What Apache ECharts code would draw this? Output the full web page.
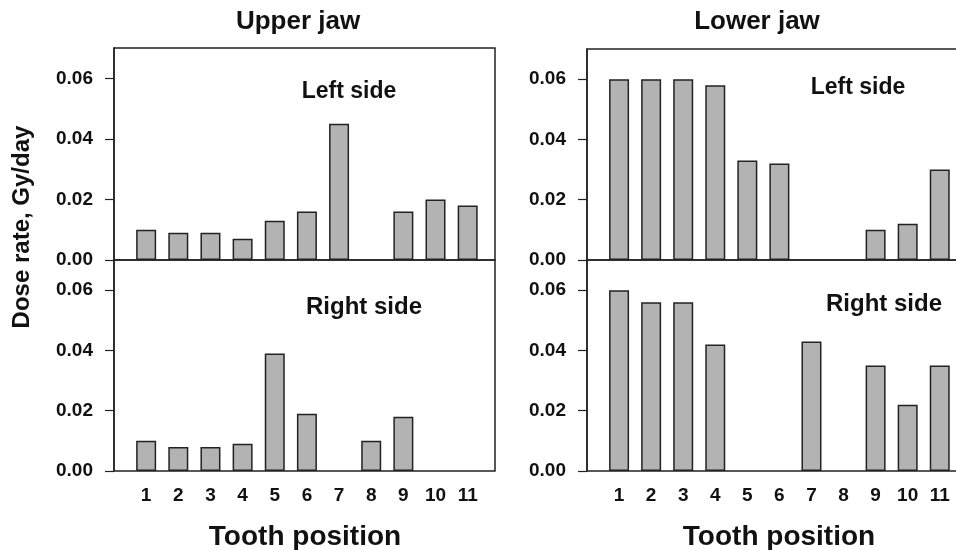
<!DOCTYPE html>
<html>
<head>
<meta charset="utf-8">
<style>
  html, body { margin: 0; padding: 0; background: #ffffff; }
  #chart { width: 956px; height: 550px; }
</style>
<script src="https://cdn.jsdelivr.net/npm/echarts@6/dist/echarts.min.js"></script>
</head>
<body>
<div id="chart"></div>
<script>
// Tooth positions along each jaw
const toothPositions = [1, 2, 3, 4, 5, 6, 7, 8, 9, 10, 11];

// Dose rate (Gy/day) per tooth; null where no tooth was measured
const upperLeft  = [0.010, 0.009, 0.009, 0.007, 0.013, 0.016, 0.045, null, 0.016, 0.020, 0.018];
const upperRight = [0.010, 0.008, 0.008, 0.009, 0.039, 0.019, null, 0.010, 0.018, null, null];
const lowerLeft  = [0.060, 0.060, 0.060, 0.058, 0.033, 0.032, null, null, 0.010, 0.012, 0.030];
const lowerRight = [0.060, 0.056, 0.056, 0.042, null, null, 0.043, null, 0.035, 0.022, 0.035];

// Value-axis tick labels
const doseTicks = [0, 0.02, 0.04, 0.06];

const FONT = '"Liberation Sans", Arial, Helvetica, sans-serif';
const INK = '#111111';
const LINE = '#222222';

const chart = echarts.init(document.getElementById('chart'), null, { renderer: 'canvas' });

// Panel frames; the lower-jaw frames run past the right edge of the page
const panels = [
  { left: 114, top: 48,  width: 381, height: 212, data: upperLeft,  labels: false },
  { left: 114, top: 260, width: 381, height: 211, data: upperRight, labels: true },
  { left: 587, top: 49,  width: 380, height: 211, data: lowerLeft,  labels: false },
  { left: 587, top: 260, width: 380, height: 211, data: lowerRight, labels: true }
];

const grids = panels.map(p => ({
  left: p.left, top: p.top, width: p.width, height: p.height,
  show: true, borderColor: LINE, borderWidth: 1.5, backgroundColor: 'transparent',
  containLabel: false,
  outerBoundsMode: 'none'
}));

const xAxes = panels.map((p, i) => ({
  type: 'value', gridIndex: i, min: 0, max: 11.85,
  axisLine: { show: false },
  axisTick: { show: false },
  splitLine: { show: false },
  axisLabel: {
    show: p.labels,
    customValues: toothPositions,
    margin: 15,
    color: INK, fontFamily: FONT, fontWeight: 'bold', fontSize: 19
  }
}));

const yAxes = panels.map((p, i) => ({
  type: 'value', gridIndex: i, min: 0, max: 0.07,
  axisLine: { show: true, lineStyle: { color: LINE, width: 1.5 } },
  axisTick: { show: true, length: 9, customValues: doseTicks, lineStyle: { color: LINE, width: 1.2 } },
  splitLine: { show: false },
  axisLabel: {
    customValues: doseTicks,
    margin: 21,
    formatter: v => v.toFixed(2),
    color: INK, fontFamily: FONT, fontWeight: 'bold', fontSize: 19
  }
}));

const series = panels.map((p, i) => ({
  type: 'bar',
  xAxisIndex: i, yAxisIndex: i,
  barWidth: 20,
  data: toothPositions.map((t, k) => [t, p.data[k]]),
  itemStyle: { color: '#b3b3b3', borderColor: LINE, borderWidth: 1.5 },
  silent: true,
  animation: false
}));

function label(text, x, y, size, rotation) {
  return {
    type: 'text', x: x, y: y, rotation: rotation || 0, silent: true,
    style: {
      text: text, fill: INK, font: 'bold ' + size + 'px ' + FONT,
      textAlign: 'center', textVerticalAlign: 'middle'
    }
  };
}

chart.setOption({
  animation: false,
  backgroundColor: '#ffffff',
  grid: grids,
  xAxis: xAxes,
  yAxis: yAxes,
  series: series,
  graphic: [
    label('Upper jaw', 298, 22, 26),
    label('Lower jaw', 757, 22, 26),
    label('Tooth position', 305, 537, 28),
    label('Tooth position', 779, 537, 28),
    label('Dose rate, Gy/day', 22, 227, 24, Math.PI / 2),
    label('Left side', 349, 92, 23),
    label('Right side', 364, 307, 24),
    label('Left side', 858, 88, 23),
    label('Right side', 884, 304, 24)
  ]
});
</script>
</body>
</html>
